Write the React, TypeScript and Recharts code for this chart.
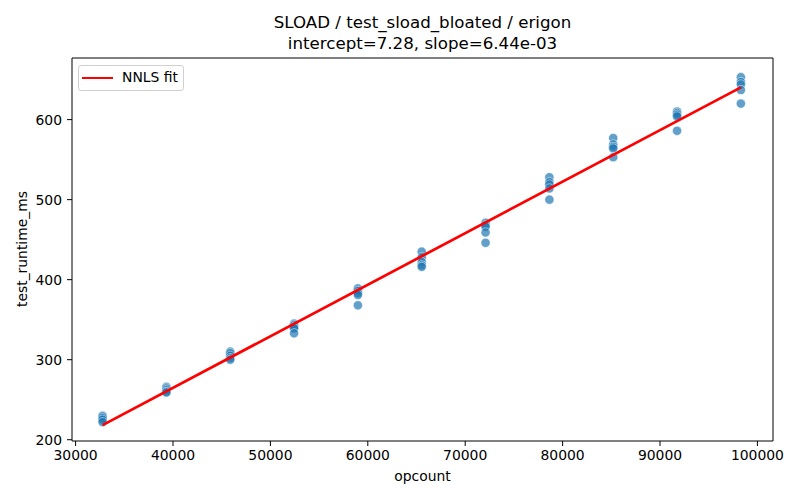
import { ScatterChart, Scatter, XAxis, YAxis, ReferenceLine } from "recharts";

const BLUE = "#1f77b4";
const FONT = "'DejaVu Sans', sans-serif";

const OPCOUNT = [32768, 39322, 45875, 52429, 58982, 65536, 72090, 78643, 85197, 91750, 98304];

// five runs per opcount, ms
const RUNTIME = [
  [230, 229, 227, 225, 222],
  [266, 264, 262, 260, 259],
  [310, 308, 305, 302, 300],
  [345, 343, 341, 339, 333],
  [389, 386, 383, 381, 368],
  [435, 428, 422, 418, 416],
  [471, 468, 466, 459, 446],
  [528, 522, 519, 514, 500],
  [577, 569, 566, 564, 553],
  [610, 608, 606, 604, 586],
  [653, 647, 644, 637, 620],
];

const INTERCEPT = 7.28;
const SLOPE = 6.44e-3;

const X_TICKS = [30000, 40000, 50000, 60000, 70000, 80000, 90000, 100000];
const Y_TICKS = [200, 300, 400, 500, 600];
const X_DOMAIN = [29630, 101600];
const Y_DOMAIN = [198.4, 677];

const points = OPCOUNT.flatMap((x, i) => RUNTIME[i].map(y => ({ x, y })));
const xLo = OPCOUNT[0], xHi = OPCOUNT[OPCOUNT.length - 1];
const fit = [
  { x: xLo, y: INTERCEPT + SLOPE * xLo },
  { x: xHi, y: INTERCEPT + SLOPE * xHi },
];

const Dot = (p: any) => (
  <circle cx={p.cx} cy={p.cy} r={4.6} fill={BLUE} fillOpacity={0.7}
    stroke="#fff" strokeWidth={0.7} strokeOpacity={0.7} />
);

const tick = { fill: "#000", fontSize: 13.9, fontFamily: FONT };

export default function App() {
  return (
    <div style={{ position: "absolute", left: 0, top: 0, width: 800, height: 500,
      background: "#fff", fontFamily: FONT, color: "#000" }}>
      <div style={{ position: "absolute", left: 72, width: 701, top: 12, textAlign: "center",
        fontSize: 16.67, lineHeight: "21px" }}>
        SLOAD / test_sload_bloated / erigon<br />intercept=7.28, slope=6.44e-03
      </div>
      <ScatterChart width={800} height={500} margin={{ top: 58, right: 27, bottom: 19, left: 0 }}>
        <XAxis type="number" dataKey="x" domain={X_DOMAIN} ticks={X_TICKS} allowDataOverflow
          height={40} tickSize={5} tickMargin={4} tick={tick} stroke="#000" />
        <YAxis type="number" dataKey="y" domain={Y_DOMAIN} ticks={Y_TICKS} allowDataOverflow
          width={72} tickSize={5} tickMargin={5} tick={tick} stroke="#000" />
        <ReferenceLine y={Y_DOMAIN[1]} stroke="#000" ifOverflow="visible" />
        <ReferenceLine x={X_DOMAIN[1]} stroke="#000" ifOverflow="visible" />
        <Scatter data={points} shape={Dot} isAnimationActive={false} />
        <Scatter data={fit} line={{ stroke: "#ff0000", strokeWidth: 2.7 }} shape={() => <g />}
          isAnimationActive={false} />
      </ScatterChart>
      <div style={{ position: "absolute", left: 78, top: 65, width: 104, height: 24,
        border: "1px solid #d0d0d0", borderRadius: 3, background: "rgba(255,255,255,0.8)" }}>
        <div style={{ position: "absolute", left: 3, top: 10.5, width: 31, height: 2.7, background: "#ff0000" }} />
        <div style={{ position: "absolute", left: 43, top: 3, fontSize: 13.9, lineHeight: "16px" }}>NNLS fit</div>
      </div>
      <div style={{ position: "absolute", left: 72, width: 701, top: 468, textAlign: "center",
        fontSize: 13.9, lineHeight: "17px" }}>opcount</div>
      <div style={{ position: "absolute", left: 22, top: 249, fontSize: 13.9, lineHeight: "17px",
        whiteSpace: "nowrap", transform: "translate(-50%, -50%) rotate(-90deg)" }}>test_runtime_ms</div>
    </div>
  );
}
